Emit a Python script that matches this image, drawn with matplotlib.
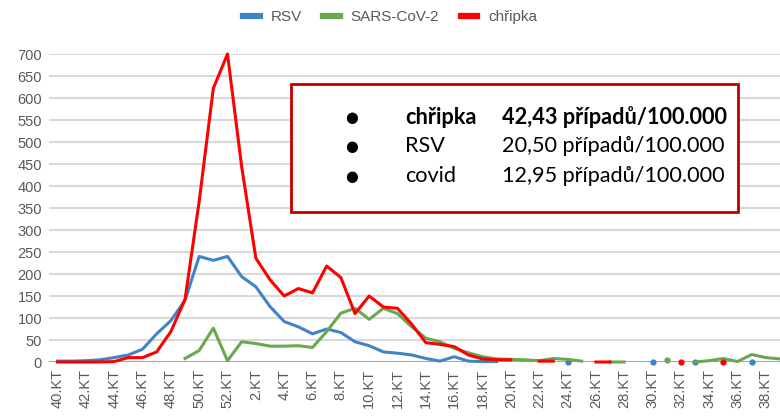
import numpy as np
import matplotlib.pyplot as plt
from matplotlib.patches import Rectangle

nan = np.nan

# calendar weeks 40..52, then 1..39
weeks = list(range(40, 53)) + list(range(1, 40))
tick_labels = [f"{w}.KT" for w in weeks]

rsv = [2, 2, 3, 5, 10, 16, 29, 64, 94, 140, 240, 231, 240, 194, 171, 126,
       92, 80, 64, 75, 67, 46, 37, 23, 20, 16, 8, 2, 12, 2, 1, 1,
       nan, nan, nan, nan, 0, nan, nan, nan, nan, nan, 0, nan, nan, 0,
       nan, nan, nan, 0, nan, nan]
covid = [nan, nan, nan, nan, nan, nan, nan, nan, nan,
         8, 26, 77, 3, 46, 42, 36, 36, 37, 33, 69, 111, 122, 97, 122, 110,
         80, 54, 46, 31, 21, 12, 7, 6, 5, 3, 8, 6, 2,
         nan, 0, 0, nan, nan, 4, nan, 0, 3, 8, 1, 17, 10, 7]
flu = [0, 0, 0, 0, 1, 10, 10, 23, 69, 142, 365, 622, 700, 444, 236, 187,
       150, 167, 157, 218, 192, 110, 150, 125, 122, 86, 44, 40, 35, 16, 7, 5, 5,
       nan, 2, 2, nan, nan, 0, 0, nan, nan, nan, nan, 1, nan, nan, 1,
       nan, nan, nan, nan]

series = [("RSV", rsv, "#3d85c6"),
          ("SARS-CoV-2", covid, "#6aa84f"),
          ("chřipka", flu, "#ff0000")]

fig = plt.figure(figsize=(7.8, 4.16), dpi=100)
ax = fig.add_axes([49 / 780, (416 - 362) / 416, 731 / 780, 308 / 416])

x = np.arange(len(weeks))
for name, vals, col in series:
    v = np.array(vals, dtype=float)
    ok = ~np.isnan(v)
    prev = np.r_[False, ok[:-1]]
    nxt = np.r_[ok[1:], False]
    lonely = list(ok & ~prev & ~nxt)  # single points between gaps
    ax.plot(x, v, color=col, lw=2.2, label=name, marker="o", ms=3.5,
            markevery=lonely, clip_on=False, zorder=3)

ax.set_xlim(-0.6, 51)
ax.set_ylim(0, 700)
ax.set_yticks(range(0, 701, 50))
ax.grid(axis="y", color="#d9d9d9", lw=1.5)
ax.axhline(0, color="#a0a0a0", lw=2, zorder=2)
ax.set_axisbelow(True)
ax.set_xticks(x[::2])
ax.set_xticklabels(tick_labels[::2], rotation=90)
ax.tick_params(length=0, colors="#595959", labelsize=10.5, pad=5)
for lab in ax.get_xticklabels() + ax.get_yticklabels():
    lab.set_family("Liberation Sans")
for s in ax.spines.values():
    s.set_visible(False)

leg = fig.legend(loc="center", bbox_to_anchor=(0.5, 1 - 17 / 416), ncol=3,
                 frameon=False, handlelength=1.1, handletextpad=0.7,
                 columnspacing=1.4, prop={"family": "Liberation Sans", "size": 11})
for h in leg.get_lines():
    h.set_linewidth(4.5)
    h.set_marker("")
for t in leg.get_texts():
    t.set_color("#595959")

# info box
fig.add_artist(Rectangle((291 / 780, (416 - 212) / 416), 447 / 780, 128 / 416,
                         transform=fig.transFigure, facecolor="white",
                         edgecolor="#c00000", lw=2, zorder=5))
rows = [("chřipka", "42,43 případů/100.000", "bold"),
        ("RSV", "20,50 případů/100.000", "normal"),
        ("covid", "12,95 případů/100.000", "normal")]
for k, (name, val, wt) in enumerate(rows):
    yy = (416 - (117 + 29.5 * k)) / 416
    fig.text(352 / 780, yy, "●", ha="center", va="center", fontsize=10.5,
             family=["DejaVu Sans"], zorder=6)
    fig.text(405 / 780, yy, name, ha="left", va="center", fontsize=15.6,
             family=["Lato", "DejaVu Sans"], weight=wt, zorder=6)
    fig.text(502 / 780, yy, val, ha="left", va="center", fontsize=15.6,
             family=["Lato", "DejaVu Sans"], weight=wt, zorder=6)

fig.savefig("out.png", dpi=100)
